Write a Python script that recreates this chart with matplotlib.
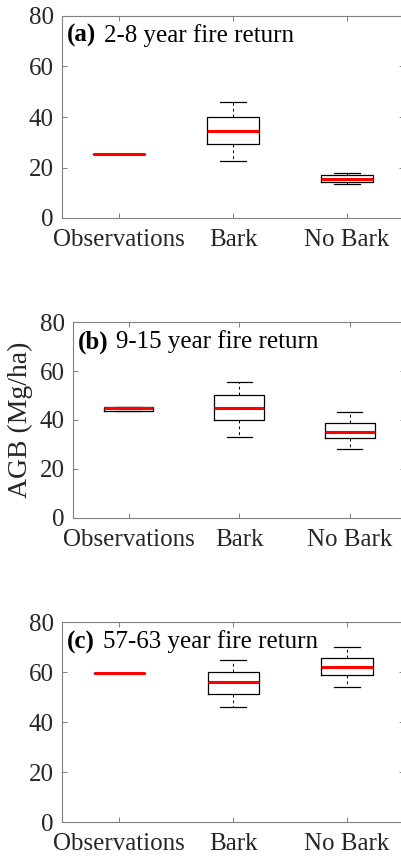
import matplotlib
matplotlib.use("Agg")
import matplotlib.pyplot as plt

plt.rcParams['font.family'] = ['Liberation Serif', 'DejaVu Serif']

categories = ["Observations", "Bark", "No Bark"]
panel_labels = ["(a)", "(b)", "(c)"]
panel_titles = ["2-8 year fire return", "9-15 year fire return", "57-63 year fire return"]
y_ticks = [0, 20, 40, 60, 80]
y_label = "AGB (Mg/ha)"

# whislo, q1, med, q3, whishi for Observations, Bark, No Bark
a_whislo = [25.2, 22.6, 13.3]
a_q1     = [25.2, 29.3, 14.4]
a_med    = [25.2, 34.3, 15.4]
a_q3     = [25.2, 40.1, 17.0]
a_whishi = [25.2, 45.8, 17.9]

b_whislo = [43.7, 33.2, 28.3]
b_q1     = [43.7, 39.9, 32.6]
b_med    = [44.8, 44.9, 35.1]
b_q3     = [45.4, 50.1, 38.9]
b_whishi = [45.4, 55.4, 43.4]

c_whislo = [59.8, 46.2, 54.2]
c_q1     = [59.8, 51.4, 58.8]
c_med    = [59.8, 56.0, 62.2]
c_q3     = [59.8, 60.1, 65.9]
c_whishi = [59.8, 64.9, 70.1]

panels = [
    (a_whislo, a_q1, a_med, a_q3, a_whishi),
    (b_whislo, b_q1, b_med, b_q3, b_whishi),
    (c_whislo, c_q1, c_med, c_q3, c_whishi),
]

W, H = 401, 859
fig = plt.figure(figsize=(W / 100, H / 100), dpi=100)

# axes rectangles in pixels: left, right, top, bottom
rects_px = [(62, 404, 16, 218), (73.3, 405, 322.3, 517.7), (62.3, 404, 622.3, 822.3)]

txt_col = '#262626'
spine_col = '#808080'
axes = []
for i, (l, r, t, b) in enumerate(rects_px):
    ax = fig.add_axes([l / W, (H - b) / H, (r - l) / W, (b - t) / H])
    axes.append(ax)
    wl, q1, md, q3, wh = panels[i]
    stats = []
    for k, name in enumerate(categories):
        stats.append(dict(label=name, whislo=wl[k], q1=q1[k], med=md[k], q3=q3[k], whishi=wh[k], fliers=[]))
    ax.bxp(stats, positions=[1, 2, 3], widths=0.45, showfliers=False,
           boxprops=dict(color='black', linewidth=0.9),
           medianprops=dict(color='red', linewidth=2.2, solid_capstyle='butt'),
           whiskerprops=dict(color='black', linewidth=0.7, linestyle=(0, (3, 3))),
           capprops=dict(color='black', linewidth=0.9),
           capwidths=0.225)
    ax.set_xlim(0.5, 3.5)
    ax.set_ylim(0, 80)
    ax.set_yticks(y_ticks)
    ax.set_xticks([1, 2, 3])
    ax.set_xticklabels(categories)
    for s in ax.spines.values():
        s.set_color(spine_col)
        s.set_linewidth(0.8)
    ax.tick_params(axis='both', direction='in', top=True, right=True, length=3.5,
                   width=0.7, color=spine_col, labelsize=18, labelcolor=txt_col)
    ax.tick_params(axis='x', pad=8)
    ax.tick_params(axis='y', pad=6)

axes[1].set_ylabel(y_label, fontsize=20, color=txt_col)
axes[1].yaxis.label.set_va('center')
axes[1].yaxis.set_label_coords((20 - 73.3) / (405 - 73.3), 0.5)

fig.canvas.draw()
renderer = fig.canvas.get_renderer()
for i, ax in enumerate(axes):
    t1 = ax.annotate(panel_labels[i], xy=(0, 1), xycoords='axes fraction',
                     xytext=(4.5, -26), textcoords='offset pixels',
                     ha='left', va='baseline', fontsize=18, fontweight='bold', color='black')
    w1 = t1.get_window_extent(renderer).width
    ax.annotate(panel_titles[i], xy=(0, 1), xycoords='axes fraction',
                xytext=(4.5 + w1 + 8, -26), textcoords='offset pixels',
                ha='left', va='baseline', fontsize=18, color='black')

fig.savefig("out.png", dpi=100)
